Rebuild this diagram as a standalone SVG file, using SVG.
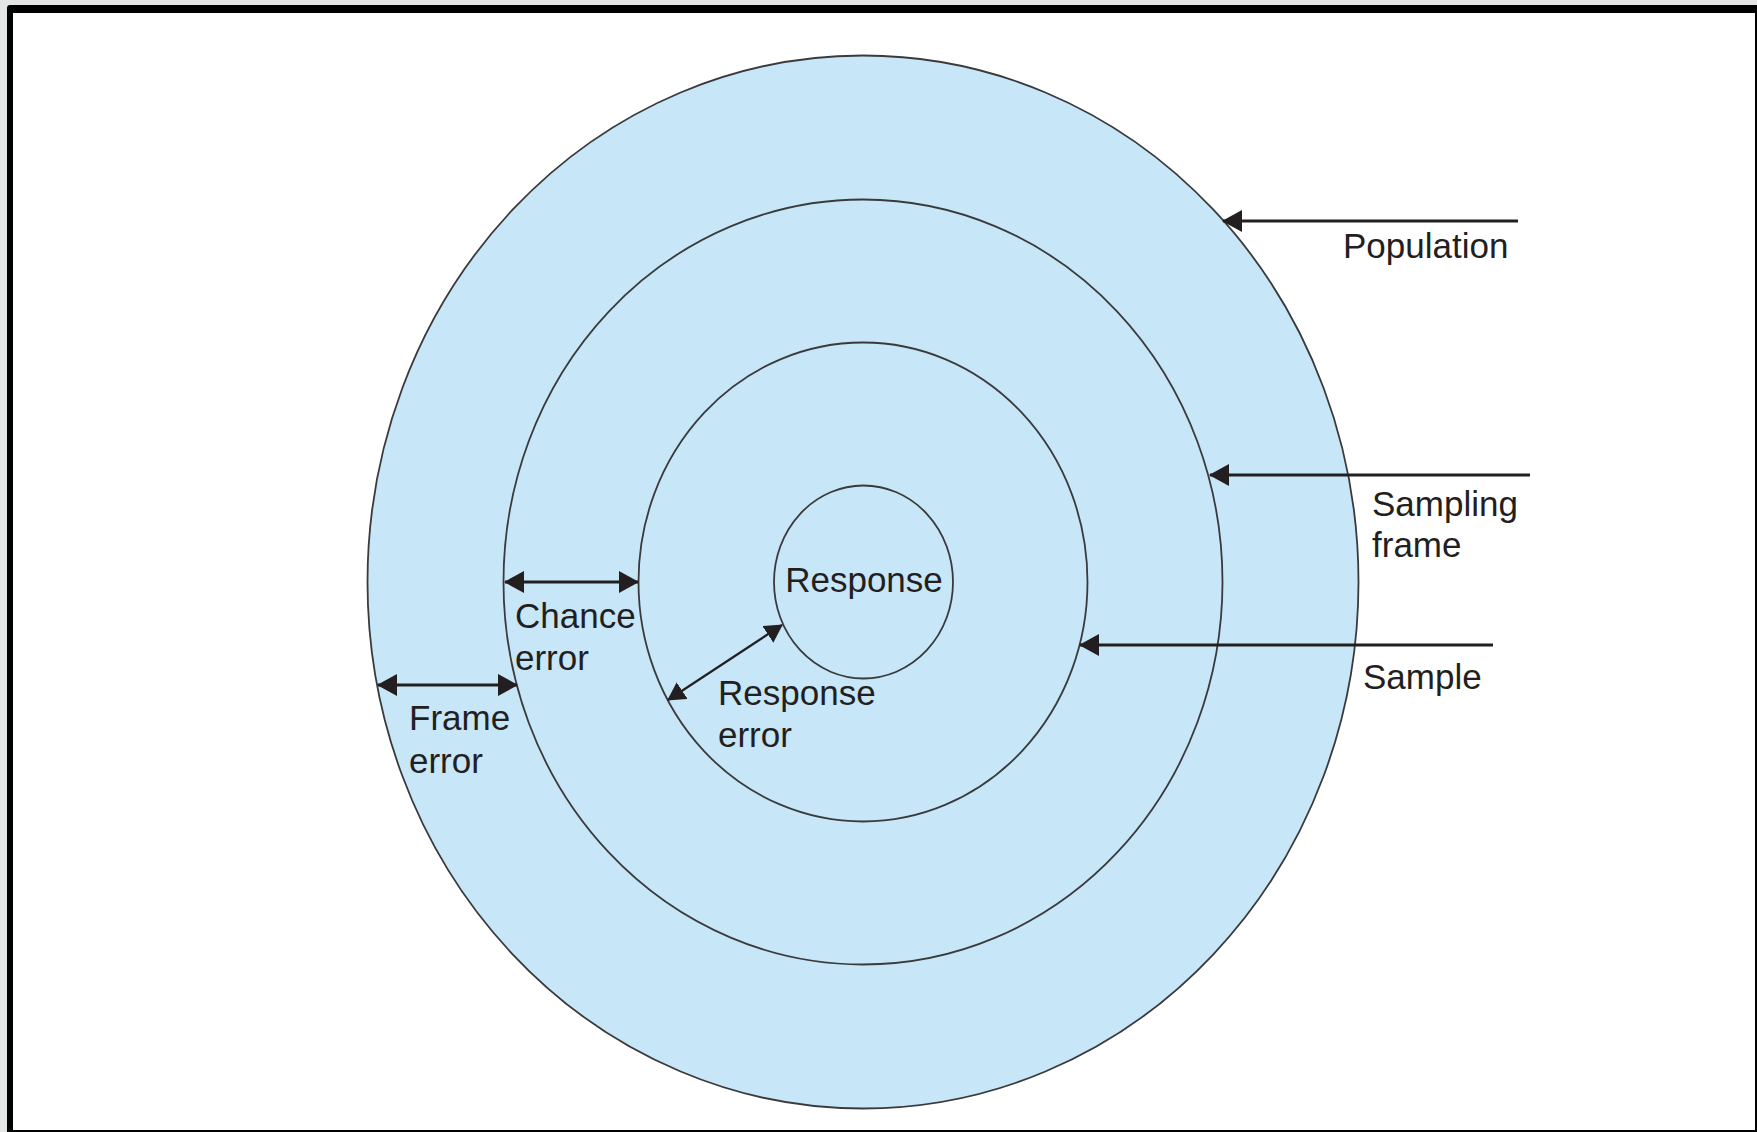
<svg xmlns="http://www.w3.org/2000/svg" width="1757" height="1132" viewBox="0 0 1757 1132">
<style>
.ring{fill:#c7e6f8;stroke:#3a3a3c;stroke-width:1.8}
.conn{stroke:#231f20;stroke-width:2.8;fill:none}
.thin{stroke:#231f20;stroke-width:2.2;fill:none}
text{font-family:"Liberation Sans",Arial,sans-serif;font-size:35px;fill:#231f20}
</style>
<defs>
<marker id="ah" markerUnits="userSpaceOnUse" viewBox="0 0 20 22" refX="19" refY="11" markerWidth="20" markerHeight="22" orient="auto-start-reverse">
<path d="M0,0 L20,11 L0,22 Z" fill="#231f20"/>
</marker>
<marker id="ahs" markerUnits="userSpaceOnUse" viewBox="0 0 18 20" refX="17" refY="10" markerWidth="18" markerHeight="20" orient="auto-start-reverse">
<path d="M0,0 L18,10 L0,20 Z" fill="#231f20"/>
</marker>
</defs>
<rect x="0" y="0" width="1757" height="1132" fill="#e4e6e6"/>
<rect x="7" y="5" width="1760" height="1140" rx="3" fill="#000"/>
<rect x="13" y="13" width="1742" height="1117" fill="#fff"/>
<g id="population"><ellipse class="ring" cx="863" cy="582" rx="495.5" ry="526.5"/></g>
<g id="sampling-frame"><ellipse class="ring" cx="863" cy="582" rx="359.5" ry="382.5"/></g>
<g id="sample"><ellipse class="ring" cx="863" cy="582" rx="224.5" ry="239.5"/></g>
<g id="response"><ellipse class="ring" cx="863.5" cy="582" rx="89.5" ry="96.5"/>
<text x="864" y="592" text-anchor="middle">Response</text></g>
<g id="connectors">
<line class="conn" x1="1518" y1="221" x2="1223" y2="221" marker-end="url(#ah)"/>
<line class="conn" x1="1530" y1="475" x2="1210" y2="475" marker-end="url(#ah)"/>
<line class="conn" x1="1493" y1="645" x2="1080" y2="645" marker-end="url(#ah)"/>
<line class="conn" x1="505" y1="582" x2="638" y2="582" marker-start="url(#ah)" marker-end="url(#ah)"/>
<line class="conn" x1="378" y1="685" x2="517" y2="685" marker-start="url(#ah)" marker-end="url(#ah)"/>
<line class="thin" x1="668" y1="700" x2="782" y2="625" marker-start="url(#ahs)" marker-end="url(#ahs)"/>
</g>
<g id="labels">
<text x="1343" y="258">Population</text>
<text x="1372" y="516">Sampling</text>
<text x="1372" y="557">frame</text>
<text x="1363" y="689">Sample</text>
<text x="515" y="628">Chance</text>
<text x="515" y="670">error</text>
<text x="409" y="730">Frame</text>
<text x="409" y="773">error</text>
<text x="718" y="705">Response</text>
<text x="718" y="747">error</text>
</g>
</svg>
